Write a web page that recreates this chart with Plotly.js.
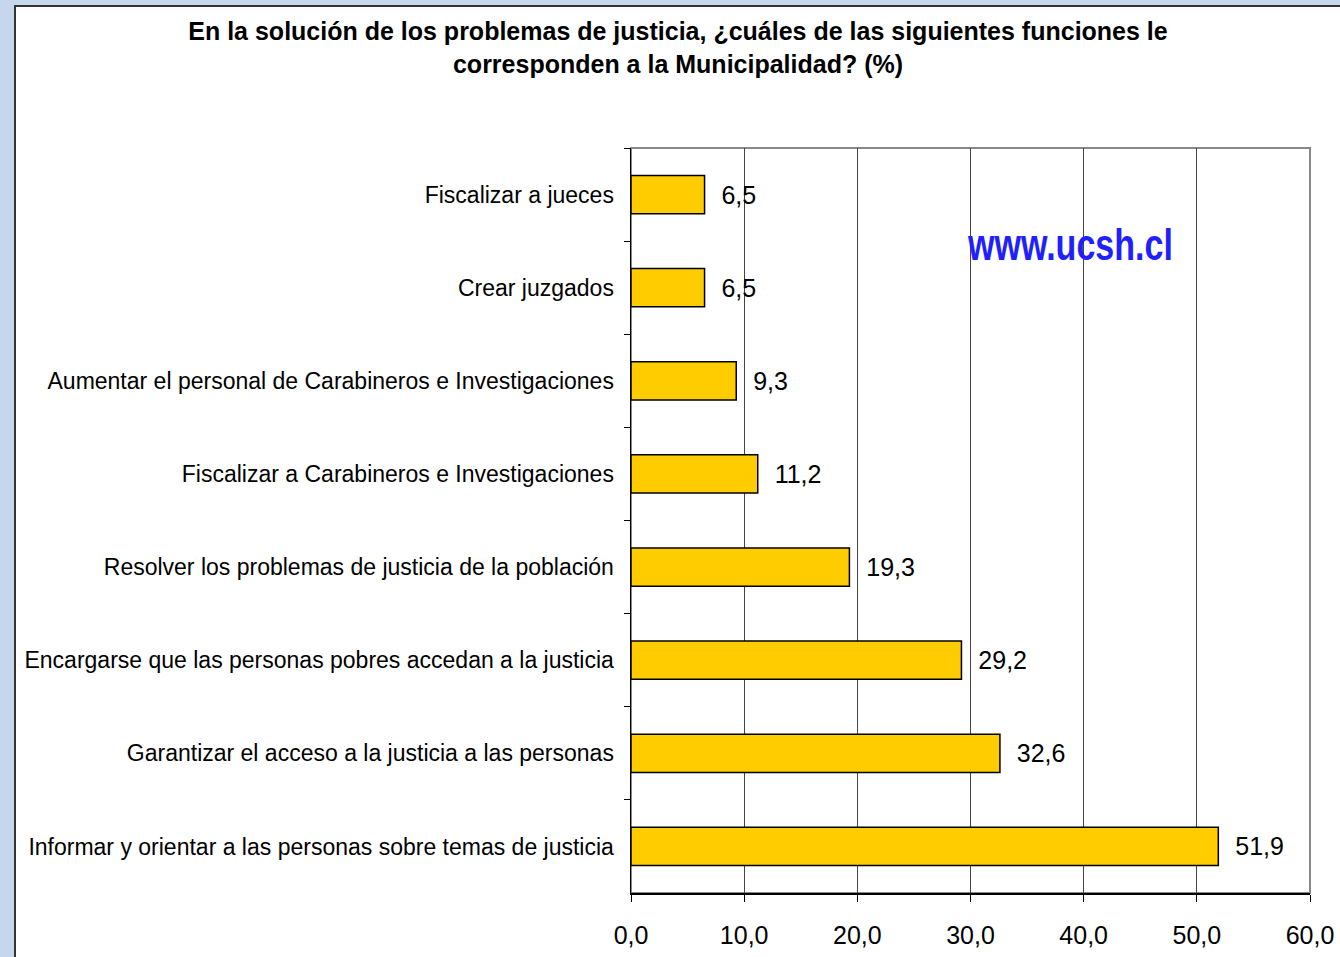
<!DOCTYPE html>
<html>
<head>
<meta charset="utf-8">
<script src="https://cdn.plot.ly/plotly-3.0.1.min.js"></script>
<style>
  html, body { margin: 0; padding: 0; background: #c6d6ec; width: 1340px; height: 957px; overflow: hidden; }
  #frame { position: absolute; left: 14px; top: 5px; width: 1326px; height: 952px; background: #fff;
           border-left: 2px solid #333; border-top: 2px solid #333; box-sizing: border-box; }
  #chart { width: 1324px; height: 950px; }
</style>
</head>
<body>
<div id="frame"><div id="chart"></div></div>
<script>
const categories = [
  "Fiscalizar a jueces",
  "Crear juzgados",
  "Aumentar el personal de Carabineros e Investigaciones",
  "Fiscalizar a Carabineros e Investigaciones",
  "Resolver los problemas de justicia de la población",
  "Encargarse que las personas pobres accedan a la justicia",
  "Garantizar el acceso a la justicia a las personas",
  "Informar y orientar a las personas sobre temas de justicia"
];
const values = [6.5, 6.5, 9.3, 11.2, 19.3, 29.2, 32.6, 51.9];
const xTicks = [0, 10, 20, 30, 40, 50, 60];
const titleText = "En la solución de los problemas de justicia, ¿cuáles de las siguientes funciones le<br>corresponden a la Municipalidad? (%)";
const watermark = "www.ucsh.cl";

const font = "Liberation Sans, Arial, sans-serif";

const trace = {
  type: "bar",
  orientation: "h",
  y: categories,
  x: values,
  marker: { color: "#FFCC00", line: { color: "#000", width: 1.5 } },
  texttemplate: "  %{x:.1f}",
  textposition: "outside",
  cliponaxis: false,
  textfont: { family: font, size: 25, color: "#000" },
  hoverinfo: "skip"
};

const layout = {
  width: 1324, height: 950,
  margin: { l: 615, r: 30, t: 141, b: 64 },
  paper_bgcolor: "#fff",
  plot_bgcolor: "#fff",
  separators: ",.",
  bargap: 0.59,
  showlegend: false,
  title: {
    text: titleText,
    font: { family: font, size: 25, color: "#000", weight: "bold" },
    x: 0.5, xanchor: "center", xref: "container",
    y: 0.965, yanchor: "middle", yref: "container"
  },
  xaxis: {
    range: [0, 60],
    tickvals: xTicks,
    tickformat: ".1f",
    showgrid: true, gridcolor: "#444", gridwidth: 1,
    zeroline: false,
    showline: true, linecolor: "#000", linewidth: 1.5,
    ticks: "outside", ticklen: 7, tickcolor: "#000", tickwidth: 1,
    tickfont: { family: font, size: 25, color: "#000" },
    ticklabelstandoff: 12,
    fixedrange: true
  },
  yaxis: {
    autorange: "reversed",
    type: "category",
    showgrid: false,
    zeroline: false,
    showline: true, linecolor: "#000", linewidth: 1.5,
    ticks: "outside", tickson: "boundaries", ticklen: 6, tickcolor: "#000", tickwidth: 1,
    tickfont: { family: font, size: 23, color: "#000" },
    ticklabelstandoff: 11,
    fixedrange: true
  },
  shapes: [{
    type: "rect", xref: "paper", yref: "paper", x0: 0, x1: 1, y0: 0, y1: 1,
    line: { color: "#888", width: 2 }, layer: "below"
  }],
  annotations: [{
    text: watermark, xref: "paper", yref: "paper", x: 0.647, y: 0.87,
    xanchor: "center", yanchor: "middle", showarrow: false,
    font: { family: font, size: 44, color: "#1f1fff", weight: "bold" }
  }]
};

Plotly.newPlot("chart", [trace], layout, { displayModeBar: false, staticPlot: true }).then(function (gd) {
  // condense the watermark glyphs horizontally, like the narrow face in the reference
  const t = gd.querySelector(".annotation-text");
  if (t) {
    t.setAttribute("textLength", "205");
    t.setAttribute("lengthAdjust", "spacingAndGlyphs");
  }
});
</script>
</body>
</html>
